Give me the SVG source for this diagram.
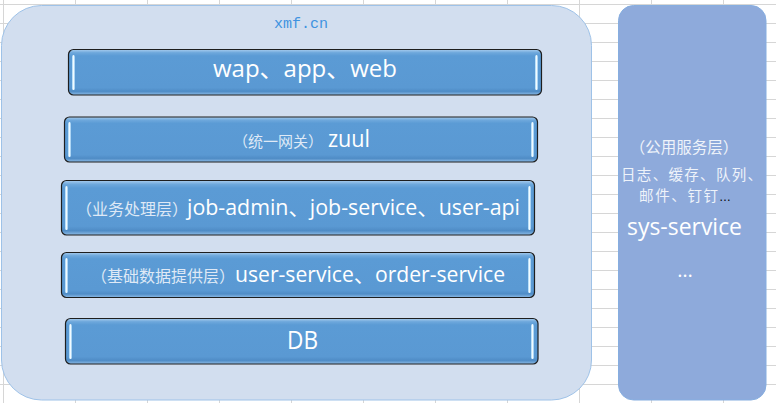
<svg xmlns="http://www.w3.org/2000/svg" width="776" height="403" viewBox="0 0 776 403">
<defs>
<linearGradient id="barGrad" x1="0" y1="0" x2="0" y2="1">
<stop offset="0" stop-color="#a9cdee"/>
<stop offset="0.07" stop-color="#6ea8dc"/>
<stop offset="0.14" stop-color="#5b9bd5"/>
<stop offset="0.84" stop-color="#5a99d3"/>
<stop offset="0.92" stop-color="#4f8cc6"/>
<stop offset="1" stop-color="#8dbbe6"/>
</linearGradient>
<linearGradient id="hiGrad" x1="0" y1="0" x2="1" y2="0">
<stop offset="0" stop-color="#9fd2f5"/>
<stop offset="0.5" stop-color="#f2fbff"/>
<stop offset="1" stop-color="#8cc3ee"/>
</linearGradient>
<pattern id="grid" x="0" y="0" width="72" height="19" patternUnits="userSpaceOnUse" patternTransform="translate(3 4)">
<rect x="0" y="0" width="72" height="1" fill="#d6d6d6"/>
<rect x="0" y="0" width="1" height="19" fill="#d6d6d6"/>
</pattern>
</defs>
<style>
.bar{fill:url(#barGrad);stroke:#1e1e1e;stroke-width:1.2}
.hi{fill:url(#hiGrad)}
.lat{font-family:"Open Sans","Noto Sans CJK SC",sans-serif;fill:#ffffff}
.cn{font-family:"Noto Sans CJK SC",sans-serif;fill:#dfe9f6}
.cnw{font-family:"Noto Sans CJK SC",sans-serif;fill:#eef3fa}
</style>
<rect x="0" y="0" width="776" height="403" fill="#ffffff"/>
<rect x="0" y="0" width="776" height="403" fill="url(#grid)"/>

<g id="platform">
<rect x="1.5" y="5.5" width="590" height="394.5" rx="40" ry="40" fill="#d2deef" stroke="#9ec2e8" stroke-width="1"/>
<text x="301" y="28" text-anchor="middle" font-family="Liberation Mono, monospace" font-size="15" fill="#3f93e0">xmf.cn</text>
</g>

<g id="common-service">
<rect x="618.5" y="5.5" width="147.5" height="394.5" rx="15" ry="15" fill="#8eaadb" stroke="#86aee0" stroke-width="1"/>
<text x="684" y="153" text-anchor="middle" class="cnw" font-size="15.5">（公用服务层）</text>
<text x="621" y="180" class="cnw" font-size="14.5" textLength="141" lengthAdjust="spacing">日志、缓存、队列、</text>
<text x="639" y="201" class="cnw" font-size="14.5" textLength="79" lengthAdjust="spacing">邮件、钉钉</text>
<text x="719" y="201" font-family="Liberation Sans, sans-serif" font-size="12" fill="#000000">…</text>
<text x="627" y="235" class="lat" font-size="24" textLength="115" lengthAdjust="spacingAndGlyphs">sys-service</text>
<text x="685" y="277" text-anchor="middle" class="lat" font-size="20">…</text>
</g>

<g id="client">
<rect class="bar" x="68.5" y="49.5" width="473" height="45.5" rx="5"/>
<rect class="hi" x="72" y="55" width="3" height="35" rx="1.5"/>
<rect class="hi" x="535" y="55" width="3" height="35" rx="1.5"/>
<text x="213" y="77" class="lat" font-size="23" textLength="184" lengthAdjust="spacingAndGlyphs">wap、app、web</text>
</g>

<g id="gateway">
<rect class="bar" x="64.5" y="117" width="473" height="45" rx="5"/>
<rect class="hi" x="68" y="122" width="3" height="35" rx="1.5"/>
<rect class="hi" x="531" y="122" width="3" height="35" rx="1.5"/>
<text x="233" y="146.5" class="cn" font-size="15">（统一网关）</text>
<text x="328" y="147" class="lat" font-size="24" textLength="42" lengthAdjust="spacingAndGlyphs">zuul</text>
</g>

<g id="business">
<rect class="bar" x="61.5" y="180.5" width="473" height="54.5" rx="5"/>
<rect class="hi" x="65" y="186" width="3" height="44" rx="1.5"/>
<rect class="hi" x="528" y="186" width="3" height="44" rx="1.5"/>
<text x="76" y="215" class="cn" font-size="16">（业务处理层）</text>
<text x="187" y="215" class="lat" font-size="21" textLength="333" lengthAdjust="spacingAndGlyphs">job-admin、job-service、user-api</text>
</g>

<g id="data">
<rect class="bar" x="61.5" y="252.5" width="473" height="45" rx="5"/>
<rect class="hi" x="65" y="258" width="3" height="35" rx="1.5"/>
<rect class="hi" x="528" y="258" width="3" height="35" rx="1.5"/>
<text x="91" y="281.5" class="cn" font-size="16">（基础数据提供层）</text>
<text x="235" y="282" class="lat" font-size="21" textLength="270" lengthAdjust="spacingAndGlyphs">user-service、order-service</text>
</g>

<g id="db">
<rect class="bar" x="65.5" y="318.5" width="472.5" height="45.5" rx="5"/>
<rect class="hi" x="69" y="324" width="3" height="35" rx="1.5"/>
<rect class="hi" x="531" y="324" width="3" height="35" rx="1.5"/>
<text x="287" y="349" class="lat" font-size="25" textLength="31" lengthAdjust="spacingAndGlyphs">DB</text>
</g>

<g id="connectors"></g>
</svg>
